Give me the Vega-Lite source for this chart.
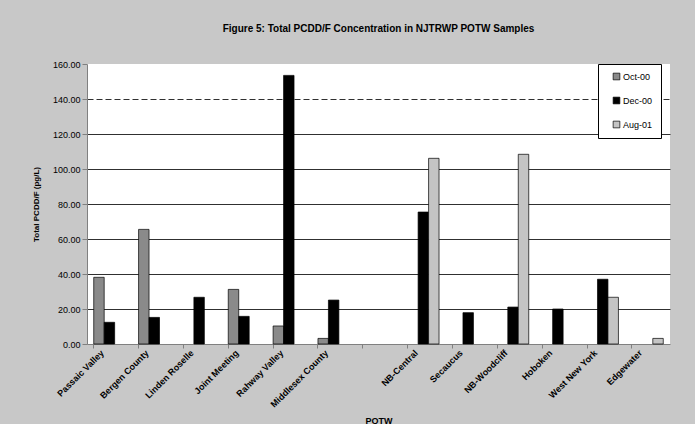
{
  "$schema": "https://vega.github.io/schema/vega-lite/v6.json",
  "width": 583,
  "height": 280,
  "autosize": {"type": "none"},
  "padding": {"left": 87, "top": 64, "right": 25, "bottom": 80},
  "background": "#c8c8c8",
  "title": {
    "text": "Figure 5: Total PCDD/F Concentration in NJTRWP POTW Samples",
    "font": "Liberation Sans",
    "fontSize": 10,
    "fontWeight": "bold",
    "color": "#000000",
    "anchor": "middle",
    "offset": 26
  },
  "data": {
    "values": [
      {"potw": "Passaic Valley", "series": "Oct-00", "value": 38.1},
      {"potw": "Passaic Valley", "series": "Dec-00", "value": 12.4},
      {"potw": "Bergen County", "series": "Oct-00", "value": 65.5},
      {"potw": "Bergen County", "series": "Dec-00", "value": 15.2},
      {"potw": "Linden Roselle", "series": "Dec-00", "value": 26.7},
      {"potw": "Joint Meeting", "series": "Oct-00", "value": 31.2},
      {"potw": "Joint Meeting", "series": "Dec-00", "value": 15.8},
      {"potw": "Rahway Valley", "series": "Oct-00", "value": 10.3},
      {"potw": "Rahway Valley", "series": "Dec-00", "value": 153.5},
      {"potw": "Middlesex County", "series": "Oct-00", "value": 3.2},
      {"potw": "Middlesex County", "series": "Dec-00", "value": 25.1},
      {"potw": "NB-Central", "series": "Dec-00", "value": 75.4},
      {"potw": "NB-Central", "series": "Aug-01", "value": 106.1},
      {"potw": "Secaucus", "series": "Dec-00", "value": 17.9},
      {"potw": "NB-Woodcliff", "series": "Dec-00", "value": 21.1},
      {"potw": "NB-Woodcliff", "series": "Aug-01", "value": 108.4},
      {"potw": "Hoboken", "series": "Dec-00", "value": 20.0},
      {"potw": "West New York", "series": "Dec-00", "value": 37.0},
      {"potw": "West New York", "series": "Aug-01", "value": 26.7},
      {"potw": "Edgewater", "series": "Aug-01", "value": 3.2}
    ]
  },
  "mark": {"type": "bar", "stroke": "#000000", "strokeWidth": 0.7},
  "encoding": {
    "x": {
      "field": "potw",
      "type": "nominal",
      "sort": null,
      "scale": {
        "domain": ["Passaic Valley", "Bergen County", "Linden Roselle", "Joint Meeting", "Rahway Valley", "Middlesex County", " ", "NB-Central", "Secaucus", "NB-Woodcliff", "Hoboken", "West New York", "Edgewater"],
        "paddingInner": 0.3,
        "paddingOuter": 0.15
      },
      "axis": {
        "title": "POTW",
        "titleFont": "Liberation Sans",
        "titleFontSize": 9,
        "titleFontWeight": "bold",
        "titleColor": "#000000",
        "titleY": 79,
        "titleBaseline": "alphabetic",
        "labelAngle": -45,
        "labelAlign": "right",
        "labelBaseline": "middle",
        "labelFont": "Liberation Sans",
        "labelFontSize": 9,
        "labelFontWeight": "bold",
        "labelColor": "#000000",
        "labelOverlap": false,
        "labelPadding": 3,
        "bandPosition": 0,
        "labelOffset": -7,
        "tickSize": 4,
        "tickColor": "#808080",
        "domainColor": "#808080"
      }
    },
    "xOffset": {
      "field": "series",
      "type": "nominal",
      "scale": {"domain": ["Oct-00", "Dec-00", "Aug-01"], "paddingInner": 0, "paddingOuter": 0}
    },
    "y": {
      "field": "value",
      "type": "quantitative",
      "scale": {"domain": [0, 160], "nice": false},
      "axis": {
        "values": [0, 20, 40, 60, 80, 100, 120, 140, 160],
        "format": ".2f",
        "title": "Total PCDD/F (pg/L)",
        "titleFont": "Liberation Sans",
        "titleFontSize": 8,
        "titleFontWeight": "bold",
        "titleColor": "#000000",
        "titlePadding": 12,
        "labelFont": "Liberation Sans",
        "labelFontSize": 9,
        "labelColor": "#000000",
        "labelPadding": 2,
        "tickSize": 5,
        "tickColor": "#808080",
        "domainColor": "#808080",
        "grid": true,
        "gridColor": "#303030",
        "gridDash": {"condition": {"test": "datum.value === 140", "value": [6, 3]}, "value": []},
        "gridOpacity": {"condition": {"test": "datum.value === 160 || datum.value === 0", "value": 0}, "value": 1}
      }
    },
    "fill": {
      "field": "series",
      "type": "nominal",
      "scale": {"domain": ["Oct-00", "Dec-00", "Aug-01"], "range": ["#8a8a8a", "#000000", "#c4c4c4"]},
      "legend": {
        "orient": "none",
        "legendX": 511,
        "legendY": 0,
        "title": null,
        "fillColor": "#ffffff",
        "strokeColor": "#000000",
        "padding": 8,
        "symbolType": "square",
        "symbolSize": 45,
        "symbolStrokeColor": "#000000",
        "symbolStrokeWidth": 0.7,
        "symbolOffset": 6,
        "labelFont": "Liberation Sans",
        "labelFontSize": 9,
        "labelColor": "#000000",
        "labelOffset": 2,
        "rowPadding": 13,
        "labelExpr": "datum.label + '      '"
      }
    }
  },
  "config": {"view": {"fill": "#ffffff", "stroke": null}}
}
